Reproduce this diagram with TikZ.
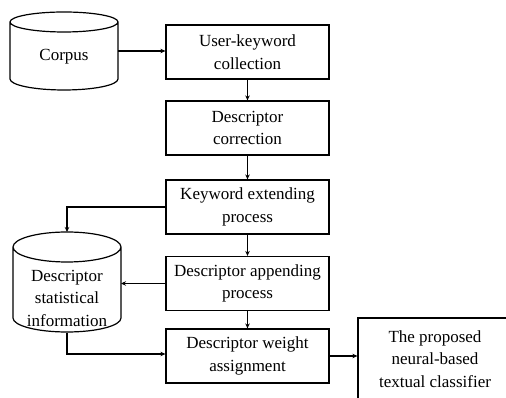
\documentclass[tikz,border=0pt]{standalone}
\usepackage{fontspec}
\setmainfont{Liberation Serif}
\usetikzlibrary{arrows.meta}

\begin{document}
\begin{tikzpicture}[x=1pt,y=1pt,
  line width=1.2pt,
  txt/.style={align=center, font=\fontsize{17}{22.5}\selectfont, inner sep=0pt},
  stepbox/.style={draw, txt, minimum width=163pt, minimum height=54pt},
  hold/.style={inner sep=0pt, outer sep=0pt},
  flow/.style={-{Stealth[length=5pt,width=4.5pt]}}]
\clip (0,0) rectangle (506,398);

% process boxes
\node[stepbox] (collect) at (247.5,346) {User-keyword\\collection};
\node[stepbox] (correct) at (247.5,270) {Descriptor\\correction};
\node[stepbox] (extend)  at (247.5,191) {Keyword extending\\process};
\node[stepbox] (append)  at (247.5,114.5) {Descriptor appending\\process};
\node[stepbox] (weight)  at (247.5,42) {Descriptor weight\\assignment};
\node[draw, txt, minimum width=154pt, minimum height=82pt] (classifier) at (435,39)
  {The proposed\\neural-based\\textual classifier};

% corpus store (cylinder)
\node[hold, minimum width=108pt, minimum height=78pt] (corpus) at (64,347) {};
\draw (10,376) -- (10,319) arc[start angle=180,end angle=360,x radius=54,y radius=11]
  -- (118,376) arc[start angle=0,end angle=180,x radius=54,y radius=10]
  arc[start angle=180,end angle=360,x radius=54,y radius=10];
\node[txt] (corpustext) at (64,341) {Corpus};

% descriptor statistics store (cylinder)
\node[hold, minimum width=108pt, minimum height=101pt] (stat) at (67,115.5) {};
\draw (13,151) -- (13,80) arc[start angle=180,end angle=360,x radius=54,y radius=14]
  -- (121,151) arc[start angle=0,end angle=180,x radius=54,y radius=15]
  arc[start angle=180,end angle=360,x radius=54,y radius=15];
\node[txt] (stattext) at (67,100) {Descriptor\\statistical\\information};

% connectors
\draw[flow] (corpus.east) -- (corpus.east -| collect.west);
\draw[flow] (collect) -- (correct);
\draw[flow] (correct) -- (extend);
\draw[flow] (extend) -- (append);
\draw[flow] (append) -- (weight);
\draw[flow] (extend.west) -| (stat.north);
\draw[flow] (append.west) -- (append.west -| stat.east);
\draw[flow] (stat.south) |- ([yshift=2pt]weight.west);
\draw[flow] (weight.east) -- (weight.east -| classifier.west);
\end{tikzpicture}
\end{document}
